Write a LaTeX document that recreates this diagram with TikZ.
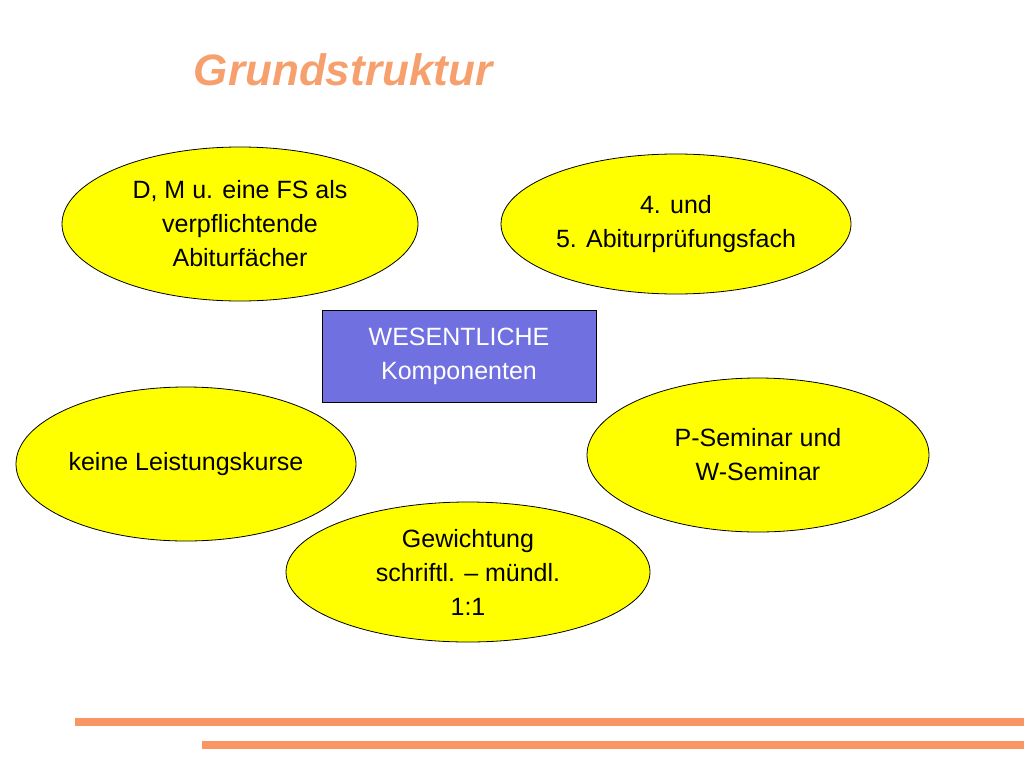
\documentclass[tikz,border=0pt]{standalone}
\usepackage{fontspec}
\setmainfont{Liberation Sans}
\usetikzlibrary{shapes.geometric}
\definecolor{ttl}{RGB}{246,160,110}
\definecolor{yel}{RGB}{255,255,0}
\definecolor{blu}{RGB}{112,112,224}
\definecolor{bar}{RGB}{250,150,100}
\begin{document}
\begin{tikzpicture}[x=1pt,y=-1pt,
  ell/.style={ellipse,draw=black,line width=0.8pt,fill=yel,inner sep=0pt,align=center,font=\fontsize{25}{34}\selectfont},
  barline/.style={line width=8pt,draw=bar}]
\useasboundingbox (0,0) rectangle (1024,768);
\node[font=\fontsize{44}{50}\selectfont\bfseries\itshape,text=ttl] (title) at (343,70) {Grundstruktur};
\node[ell,minimum width=356,minimum height=154] (a) at (240,224) {D, M u. eine FS als\\verpflichtende\\Abiturfächer};
\node[ell,minimum width=350,minimum height=140] (b) at (676,224) {4. und\\5. Abiturprüfungsfach};
\node[ell,minimum width=340,minimum height=154] (c) at (186,464) {keine Leistungskurse};
\node[ell,minimum width=342,minimum height=154] (d) at (758,455) {P-Seminar und\\W-Seminar};
\node[ell,minimum width=364,minimum height=140] (e) at (468,572) {Gewichtung\\schriftl. – mündl.\\1:1};
\node[draw=black,line width=0.8pt,fill=blu,text=white,minimum width=274,minimum height=92,align=center,font=\fontsize{25}{34}\selectfont] (w) at (459,356) {WESENTLICHE\\Komponenten};
\coordinate (l1a) at (75,722); \coordinate (l1b) at (1024,722);
\coordinate (l2a) at (202,745); \coordinate (l2b) at (1024,745);
\draw[barline] (l1a) -- (l1b);
\draw[barline] (l2a) -- (l2b);
\end{tikzpicture}
\end{document}
